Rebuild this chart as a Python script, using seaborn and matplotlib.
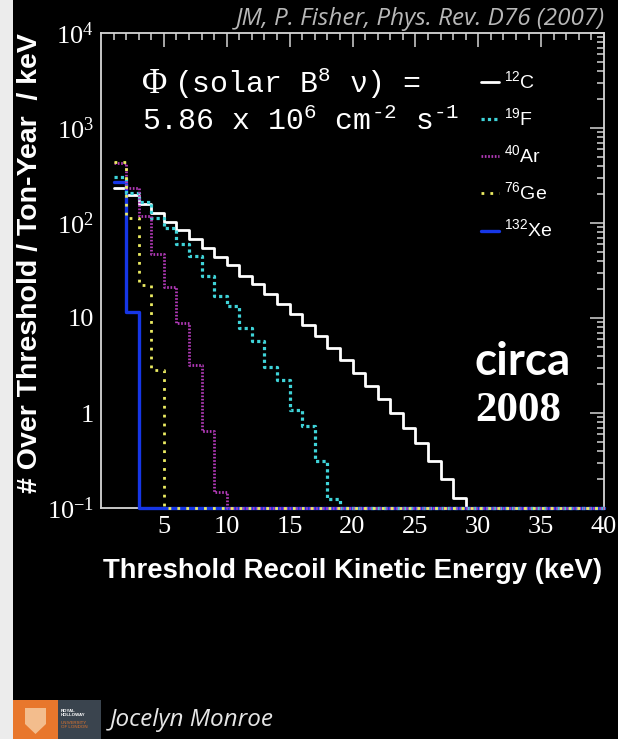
import numpy as np
import matplotlib
matplotlib.use("Agg")
import matplotlib.pyplot as plt
import seaborn as sns
from matplotlib.patches import Rectangle, Polygon
from matplotlib.lines import Line2D
from matplotlib.ticker import FixedLocator, LogLocator, NullFormatter

# Rate of nuclear recoils above threshold (events / ton-year / keV) in 1 keV bins
# starting at 1 keV; bins not listed are empty.
bin_edges = list(range(1, 41))
rate_c12 = [235, 197, 158, 126, 103, 84, 68, 55, 44, 36, 28, 22.6, 17.9, 13.9,
            10.9, 8.4, 6.4, 4.8, 3.6, 2.62, 1.92, 1.39, 0.99, 0.69, 0.48, 0.315,
            0.2, 0.126]
rate_f19 = [307, 208, 167, 112, 89, 60, 45, 28, 17.2, 13.5, 7.8, 5.7, 3.08, 2.22,
            1.08, 0.73, 0.31, 0.124]
rate_ar40 = [430, 232, 119, 46.8, 21.4, 8.8, 3.2, 0.64, 0.149]
rate_ge76 = [440, 112, 22.2, 2.84]
rate_xe132 = [268, 11.5]

labels = [r"$^{\mathregular{12}}$C", r"$^{\mathregular{19}}$F", r"$^{\mathregular{40}}$Ar",
          r"$^{\mathregular{76}}$Ge", r"$^{\mathregular{132}}$Xe"]
y_ticks = [0.1, 1, 10, 100, 1000, 10000]
y_tick_labels = [r"$\mathregular{10^{-1}}$", "1", "10", r"$\mathregular{10^{2}}$",
                 r"$\mathregular{10^{3}}$", r"$\mathregular{10^{4}}$"]
x_ticks = [5, 10, 15, 20, 25, 30, 35, 40]

W, H = 618, 739


def fx(px):
    return px / W


def fy(py):
    return 1 - py / H


sns.set_style("dark", {"axes.facecolor": "black", "figure.facecolor": "black"})

fig = plt.figure(figsize=(W / 100, H / 100), dpi=100, facecolor="black")
ax = fig.add_axes([fx(101), fy(508), (604 - 101) / W, (508 - 33) / H])
ax.set_facecolor("black")

YMIN, YMAX = 0.1, 1e4
n_bins = len(bin_edges) - 1

series = {
    "C": (rate_c12, "white", 2.0, "-"),
    "F": (rate_f19, "#3fd3d8", 2.3, (0, (1.0, 1.0))),
    "Ar": (rate_ar40, "#b23ab8", 2.0, (0, (0.6, 0.6))),
    "Ge": (rate_ge76, "#ecec62", 2.0, (0, (1.0, 2.2))),
    "Xe": (rate_xe132, "#1636e6", 2.4, "-"),
}
legend_order = ["C", "F", "Ar", "Ge", "Xe"]
draw_order = ["C", "Xe", "F", "Ar", "Ge"]

for key in draw_order:
    rates, color, lw, ls = series[key]
    vals = np.zeros(n_bins)
    vals[:len(rates)] = rates
    # empty bins are drawn along the lower edge of the frame
    vals = np.clip(vals, YMIN, None)
    yv = np.append(vals, vals[-1])
    sns.lineplot(x=bin_edges, y=yv, ax=ax, color=color, linewidth=lw,
                 linestyle=ls, drawstyle="steps-post", errorbar=None,
                 estimator=None, sort=False, clip_on=False, zorder=3)

handles = [Line2D([], [], color=series[k][1], linewidth=series[k][2],
                  linestyle=series[k][3]) for k in legend_order]

ax.set_yscale("log")
ax.set_xlim(0, 40)
ax.set_ylim(YMIN, YMAX)
ax.set_xlabel("")
ax.set_ylabel("")

ax.xaxis.set_major_locator(FixedLocator(x_ticks))
ax.set_xticklabels([str(t) for t in x_ticks])
ax.xaxis.set_minor_locator(FixedLocator(list(range(1, 40))))
ax.set_yticks(y_ticks)
ax.set_yticklabels(y_tick_labels)
ax.yaxis.set_minor_locator(LogLocator(base=10, subs=np.arange(2, 10)))
ax.yaxis.set_minor_formatter(NullFormatter())

tick_col = "#d6d6d6"
ax.tick_params(axis="both", which="both", direction="in", top=True, right=True,
               color=tick_col, width=1.1)
ax.tick_params(axis="both", which="major", length=10)
ax.tick_params(axis="both", which="minor", length=5)
ax.tick_params(axis="x", which="major", pad=6)
ax.tick_params(axis="y", which="major", pad=5)
for lab in ax.get_xticklabels() + ax.get_yticklabels():
    lab.set_fontfamily("Liberation Serif")
    lab.set_fontsize(19)
    lab.set_color("white")
for sp in ax.spines.values():
    sp.set_color(tick_col)
    sp.set_linewidth(1.3)
ax.grid(False)

leg = ax.legend(handles, labels, loc="upper left", frameon=False,
                bbox_to_anchor=(fx(481), fy(70)), bbox_transform=fig.transFigure,
                borderaxespad=0, borderpad=0, handlelength=0.9, handletextpad=0.3,
                labelspacing=0.75, prop={"family": "Liberation Sans", "size": 14})
for t in leg.get_texts():
    t.set_color("white")

# Flux annotation
fig.text(fx(142), fy(93), "\u03a6", fontfamily="Liberation Serif", fontsize=25,
         color="white", va="baseline")
fig.text(fx(174), fy(93), "(solar B$^{\\mathregular{8}}$ \u03bd) =",
         fontfamily="Liberation Mono", fontsize=21.5, color="white", va="baseline")
fig.text(fx(142), fy(130),
         "5.86 x 10$^{\\mathregular{6}}$ cm$^{\\mathregular{\u20102}}$ s$^{\\mathregular{\u20101}}$",
         fontfamily="Liberation Mono", fontsize=21.5, color="white", va="baseline")

fig.text(fx(605), fy(25), "JM, P. Fisher, Phys. Rev. D76 (2007)", fontfamily="Open Sans",
         style="italic", fontsize=17.5, color="#b8b8b8", ha="right", va="baseline")

fig.text(fx(475), fy(375), "circa", fontfamily="Lato", fontweight="bold",
         fontsize=33, color="white", va="baseline")
fig.text(fx(475), fy(421), "2008", fontfamily="Liberation Serif", fontweight="bold",
         fontsize=31, color="white", va="baseline")

fig.text(fx(30), fy(263), "# Over Threshold / Ton-Year  / keV", rotation=90,
         fontfamily="Liberation Sans", fontweight="bold", fontsize=20.5,
         color="white", ha="center", va="center")
fig.text(fx(353), fy(571), "Threshold Recoil Kinetic Energy (keV)",
         fontfamily="Liberation Sans", fontweight="bold", fontsize=19.8,
         color="white", ha="center", va="center")

# Light strip down the left edge
fig.add_artist(Rectangle((0, 0), fx(13), 1, transform=fig.transFigure,
                         facecolor="#ececec", edgecolor="none", zorder=-5))

# Footer: college badge and name
fig.add_artist(Rectangle((fx(13), fy(739)), fx(58) - fx(13), fy(700) - fy(739),
                         transform=fig.transFigure, facecolor="#e8772c",
                         edgecolor="none"))
fig.add_artist(Rectangle((fx(58), fy(739)), fx(101) - fx(58), fy(700) - fy(739),
                         transform=fig.transFigure, facecolor="#3a444e",
                         edgecolor="none"))
shield = [(25, 708), (46, 708), (46, 724), (35.5, 734), (25, 724)]
fig.add_artist(Polygon([(fx(a), fy(b)) for a, b in shield], closed=True,
                       transform=fig.transFigure, facecolor="#f6cfa6",
                       edgecolor="none", alpha=0.8))
fig.text(fx(61), fy(716), "ROYAL\nHOLLOWAY", fontsize=3.2, color="white",
         fontfamily="Liberation Sans", fontweight="bold", va="baseline", linespacing=1.1)
fig.text(fx(61), fy(728), "UNIVERSITY\nOF LONDON", fontsize=3.2, color="#e8772c",
         fontfamily="Liberation Sans", va="baseline", linespacing=1.1)
fig.text(fx(110), fy(726), "Jocelyn Monroe", fontfamily="Open Sans", style="italic",
         fontsize=17.5, color="#e6e6e6", va="baseline")

fig.savefig("out.png", dpi=100, facecolor="black")
